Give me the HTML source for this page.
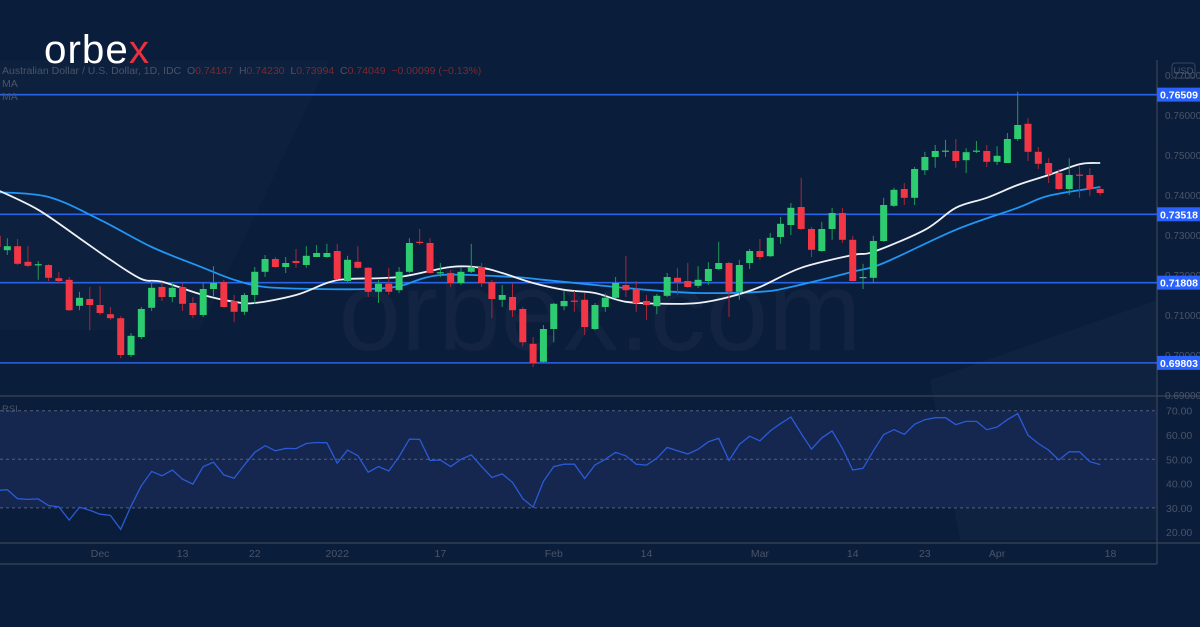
<!DOCTYPE html>
<html><head><meta charset="utf-8"><style>
html,body{margin:0;padding:0;background:#0a1d3b;}
#wrap{position:relative;width:1200px;height:627px;overflow:hidden;background:#0a1d3b;font-family:"Liberation Sans",sans-serif;}
svg{position:absolute;left:0;top:0;}
</style></head><body>
<div id="wrap">
<svg id="chart" width="1200" height="627"></svg>
</div>
<script>
const candles=[
[.7298,.7318,.7262,.7270],[.7262,.7292,.7250,.7272],[.7272,.7290,.7225,.7228],[.7233,.7272,.7220,.7223],[.7225,.7235,.7188,.7227],
[.7225,.7227,.7185,.7193],[.7192,.7208,.7180,.7185],[.7188,.7195,.7110,.7112],[.7123,.7158,.7112,.7143],[.7140,.7170,.7062,.7125],
[.7125,.7172,.7100,.7105],[.7102,.7120,.7088,.7092],[.7092,.7097,.6992,.7000],[.7000,.7055,.6995,.7048],[.7045,.7120,.7040,.7115],
[.7118,.7185,.7110,.7168],[.7170,.7182,.7135,.7145],[.7145,.7182,.7132,.7168],[.7170,.7180,.7110,.7128],[.7130,.7145,.7092,.7100],
[.7100,.7180,.7095,.7165],[.7165,.7222,.7145,.7180],[.7182,.7188,.7118,.7120],[.7135,.7150,.7082,.7108],[.7108,.7155,.7100,.7150],
[.7150,.7220,.7128,.7208],[.7208,.7250,.7195,.7240],[.7240,.7245,.7218,.7220],[.7220,.7245,.7205,.7230],[.7235,.7265,.7218,.7230],
[.7225,.7272,.7218,.7248],[.7245,.7275,.7245,.7255],[.7245,.7278,.7243,.7255],[.7260,.7278,.7188,.7190],[.7185,.7248,.7182,.7238],
[.7233,.7272,.7216,.7218],[.7218,.7220,.7145,.7158],[.7158,.7188,.7130,.7178],[.7178,.7218,.7150,.7158],[.7162,.7220,.7155,.7208],
[.7208,.7292,.7205,.7280],[.7283,.7315,.7275,.7280],[.7280,.7292,.7203,.7205],[.7205,.7230,.7195,.7207],[.7205,.7212,.7170,.7180],
[.7180,.7218,.7175,.7208],[.7208,.7278,.7205,.7220],[.7220,.7230,.7170,.7180],[.7182,.7188,.7092,.7140],[.7138,.7175,.7120,.7150],
[.7145,.7180,.7095,.7112],[.7115,.7120,.7022,.7032],[.7028,.7045,.6970,.6980],[.6983,.7075,.6980,.7065],[.7065,.7130,.7032,.7128],
[.7122,.7160,.7112,.7135],[.7136,.7160,.7108,.7134],[.7138,.7155,.7050,.7070],[.7065,.7130,.7062,.7125],[.7120,.7153,.7108,.7143],
[.7143,.7195,.7142,.7180],[.7175,.7248,.7145,.7162],[.7165,.7185,.7108,.7130],[.7135,.7150,.7088,.7125],[.7122,.7153,.7102,.7148],
[.7148,.7205,.7145,.7195],[.7193,.7218,.7150,.7182],[.7185,.7230,.7168,.7170],[.7173,.7222,.7168,.7188],[.7185,.7232,.7175,.7215],
[.7215,.7283,.7212,.7230],[.7230,.7233,.7095,.7158],[.7158,.7238,.7138,.7225],[.7230,.7265,.7215,.7260],[.7260,.7290,.7238,.7245],
[.7247,.7305,.7245,.7293],[.7295,.7345,.7278,.7328],[.7325,.7380,.7300,.7368],[.7370,.7443,.7312,.7315],[.7315,.7320,.7245,.7263],
[.7260,.7333,.7258,.7315],[.7315,.7368,.7288,.7355],[.7355,.7368,.7280,.7288],[.7288,.7298,.7185,.7185],[.7192,.7228,.7165,.7195],
[.7193,.7298,.7180,.7285],[.7285,.7393,.7283,.7375],[.7373,.7418,.7370,.7413],[.7415,.7430,.7375,.7393],[.7393,.7470,.7375,.7465],
[.7462,.7508,.7450,.7495],[.7495,.7525,.7468,.7510],[.7509,.7538,.7495,.7511],[.7510,.7540,.7468,.7485],[.7487,.7517,.7455,.7507],
[.7509,.7535,.7505,.7511],[.7510,.7525,.7470,.7483],[.7483,.7522,.7475,.7498],[.7480,.7555,.7480,.7540],[.7540,.7658,.7535,.7575],
[.7578,.7592,.7485,.7508],[.7508,.7520,.7465,.7478],[.7480,.7492,.7430,.7452],[.7455,.7465,.7412,.7415],[.7415,.7492,.7400,.7450],
[.7451,.7472,.7393,.7449],[.7450,.7467,.7398,.7415],[.7415,.7423,.7399,.7405]];
const maFastIdx=[0,4,8,11,14,16,20,23,25,29,32,34,39,44,47,49,52,55,58,61,65,68,71,74,78,83,85,90,93,96,99,102,105,107];
const maFastVal=[.7413,.7363,.7292,.7238,.7190,.7183,.7150,.7133,.7130,.7150,.7180,.7190,.7195,.7220,.7218,.7205,.7180,.7163,.7155,.7133,.7128,.7130,.7145,.7170,.7218,.7250,.7258,.7313,.7368,.7393,.7425,.7450,.7477,.7480];
const maSlowIdx=[0,5,10,15,20,23,26,31,36,39,43,50,53,58,63,68,74,77,83,86,93,99,102,107];
const maSlowVal=[.7407,.7395,.7338,.7270,.7218,.7188,.7170,.7165,.7165,.7172,.7200,.7195,.7188,.7175,.7163,.7155,.7158,.7170,.7208,.7230,.7313,.7368,.7398,.7420];
const rsi=[37.2,37.5,33.8,33.5,33.7,31.0,30.4,25.0,30.3,29.0,27.4,26.9,21.2,30.7,39.1,45.0,43.2,45.6,41.8,39.8,
47.0,48.8,43.6,42.2,47.7,52.9,55.6,53.5,54.5,54.4,56.5,56.9,56.8,48.4,53.8,51.5,44.7,47.0,45.2,51.1,
58.3,58.2,49.5,49.7,47.0,50.0,51.8,47.0,42.5,44.0,40.5,33.8,30.3,40.9,47.0,48.0,48.0,42.1,47.7,50.0,
52.9,51.4,48.0,47.6,50.4,54.9,53.5,52.2,54.1,57.2,58.7,49.5,56.1,59.5,57.6,61.7,64.7,67.4,60.6,54.2,
58.8,61.7,54.5,45.6,46.3,53.5,60.2,62.2,60.3,64.4,66.3,67.1,67.1,64.3,65.6,65.6,62.2,63.3,66.3,68.8,
59.9,56.5,53.8,49.7,53.1,53.1,49.0,47.8];
const priceTicks=[0.77,0.76,0.75,0.74,0.73,0.72,0.71,0.70,0.69];
const levels=[0.76509,0.73518,0.71808,0.69803];
const rsiTicks=[70,60,50,40,30,20];
const xLabels=["Dec","13","22","2022","17","Feb","14","Mar","14","23","Apr","18"];
const xLabelIdx=[10,18,25,33,43,54,63,74,83,90,97,108];

const NS="http://www.w3.org/2000/svg";
const svg=document.getElementById('chart');
function mk(tag,attrs,parent){const e=document.createElementNS(NS,tag);for(const k in attrs)e.setAttribute(k,attrs[k]);(parent||svg).appendChild(e);return e;}
const xs=i=>-3+i*10.31;
const yp=p=>115+(0.76-p)*4000;
const yr=v=>459.3-(v-50)*2.43;

let g=mk('g',{});

mk('polygon',{points:'0,60 330,60 200,330 0,330',fill:'#ffffff',opacity:'0.015'},g);
mk('polygon',{points:'930,380 1157,300 1157,540 960,540',fill:'#ffffff',opacity:'0.025'},g);
let wm=mk('text',{x:600,y:350,'text-anchor':'middle','font-size':'112','fill':'#ffffff','fill-opacity':'0.035','font-family':'Liberation Sans, sans-serif'});
wm.textContent='orbex.com';

let band=mk('rect',{x:0,y:yr(70),width:1157,height:yr(30)-yr(70),fill:'#15264f'});

[70,50,30].forEach(v=>{let l=mk('line',{x1:0,x2:1157,y1:yr(v),y2:yr(v),stroke:'#55607a','stroke-dasharray':'3,3','stroke-width':1});
});
[[0,396,1200,396],[0,543,1200,543],[0,564,1157,564],[1157,60,1157,564]].forEach((c,k)=>{let l=mk('line',{x1:c[0],y1:c[1],x2:c[2],y2:c[3],stroke:'#3a4558','stroke-width':1.2});
});
priceTicks.forEach(p=>{let t=mk('text',{x:1165,y:yp(p)+4,'font-size':'10',fill:'#4a5468'});t.textContent=p.toFixed(5);
});
rsiTicks.forEach(v=>{let t=mk('text',{x:1166,y:yr(v)+4,'font-size':'10.5',fill:'#4a5468'});t.textContent=v.toFixed(2);
});
xLabels.forEach((s,k)=>{let t=mk('text',{x:xs(xLabelIdx[k]),y:557,'text-anchor':'middle','font-size':'10.5',fill:'#4a5468'});t.textContent=s;
});
levels.forEach(p=>{let l=mk('line',{x1:0,x2:1157,y1:yp(p),y2:yp(p),stroke:'#2a64e6','stroke-width':1.6});

let r=mk('rect',{x:1157,y:yp(p)-7,width:43,height:14,fill:'#2962ff'});

let t=mk('text',{x:1160,y:yp(p)+4,'font-size':'10.5','font-weight':'bold',fill:'#ffffff'});t.textContent=p.toFixed(5);
});
function smooth(idx,val,f){
  const pts=idx.map((i,k)=>[xs(i),f(val[k])]);
  let d='M'+pts[0][0].toFixed(1)+','+pts[0][1].toFixed(1);
  for(let k=0;k<pts.length-1;k++){
    const p0=pts[Math.max(0,k-1)],p1=pts[k],p2=pts[k+1],p3=pts[Math.min(pts.length-1,k+2)];
    const c1=[p1[0]+(p2[0]-p0[0])/6,p1[1]+(p2[1]-p0[1])/6];
    const c2=[p2[0]-(p3[0]-p1[0])/6,p2[1]-(p3[1]-p1[1])/6];
    d+=' C'+c1.map(v=>v.toFixed(1)).join(',')+' '+c2.map(v=>v.toFixed(1)).join(',')+' '+p2[0].toFixed(1)+','+p2[1].toFixed(1);
  }
  return d;}
let ms=mk('path',{d:smooth(maSlowIdx,maSlowVal,yp),fill:'none',stroke:'#2196f3','stroke-width':1.8,'stroke-linejoin':'round'});

let mf=mk('path',{d:smooth(maFastIdx,maFastVal,yp),fill:'none',stroke:'#eef1f5','stroke-width':1.8,'stroke-linejoin':'round'});

candles.forEach((c,i)=>{const [o,h,l,cl]=c;const up=cl>=o;const x=xs(i);
const grp=mk('g',{});

mk('line',{x1:x,x2:x,y1:yp(h),y2:yp(l),stroke:up?'#1f9a5a':'#a8283a','stroke-width':1},grp);
const top=yp(Math.max(o,cl)),bot=yp(Math.min(o,cl));
mk('rect',{x:x-3.5,y:top,width:7,height:Math.max(1.2,bot-top),fill:up?'#2ecc71':'#f23645'},grp);});
let rd='';rsi.forEach((v,i)=>{rd+=(i?' L':'M')+xs(i).toFixed(1)+','+yr(v).toFixed(1);});
let rl=mk('path',{d:rd,fill:'none',stroke:'#2a5bd7','stroke-width':1.3});

let hd=mk('text',{x:2,y:74,'font-size':'10.5',fill:'#4a5468'});

hd.innerHTML='Australian Dollar / U.S. Dollar, 1D, IDC  O<tspan fill="#7a2a2e">0.74147</tspan>  H<tspan fill="#7a2a2e">0.74230</tspan>  L<tspan fill="#7a2a2e">0.73994</tspan>  C<tspan fill="#7a2a2e">0.74049</tspan>  <tspan fill="#7a2a2e">−0.00099 (−0.13%)</tspan>';
hd.setAttribute('xml:space','preserve');hd.style.whiteSpace='pre';
[87,100].forEach(y=>{let t=mk('text',{x:2,y:y,'font-size':'10.5',fill:'#4a5468'});t.textContent='MA';
});
let rt=mk('text',{x:2,y:412,'font-size':'9.5',fill:'#4a5468'});rt.textContent='RSI';

let ub=mk('rect',{x:1172,y:63,width:23,height:15,rx:3,fill:'none',stroke:'#3a4558'});

let ut=mk('text',{x:1183.5,y:74,'text-anchor':'middle','font-size':'9.5',fill:'#4a5468'});ut.textContent='USD';

let lg=mk('text',{x:44,y:63,'font-size':'40',fill:'#ffffff','font-family':'Liberation Sans, sans-serif','letter-spacing':'1','textLength':'106','lengthAdjust':'spacingAndGlyphs'});
lg.innerHTML='orbe<tspan fill="#e8303f">x</tspan>';

</script>
</body></html>
